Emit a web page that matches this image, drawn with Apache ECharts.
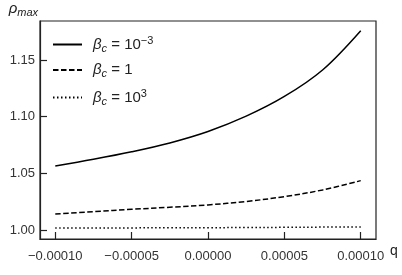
<!DOCTYPE html>
<html>
<head>
<meta charset="utf-8">
<script src="https://cdn.jsdelivr.net/npm/echarts@6/dist/echarts.min.js"></script>
<style>html,body{margin:0;padding:0;background:#fff;}#c{width:402px;height:275px;}</style>
</head>
<body>
<div id="c"></div>
<script>
const qValues = [-0.0001, -0.000075, -0.00005, -0.000025, 0, 0.000025, 0.00005, 0.000075, 0.0001];
const rhoBetaSmall = [1.0565, 1.0624, 1.0690, 1.0768, 1.0869, 1.1004, 1.1178, 1.1412, 1.1759];
const rhoBetaOne = [1.0141, 1.0161, 1.0182, 1.0200, 1.0221, 1.0251, 1.0294, 1.0353, 1.0435];
const rhoBetaLarge = [1.0016, 1.0017, 1.0018, 1.0019, 1.0020, 1.0021, 1.0023, 1.0025, 1.0027];
const seriesNames = ['b1', 'b2', 'b3'];
const legendLabels = {b1: '−3', b2: null, b3: '3'};
const xTicks = [-0.0001, -0.00005, 0, 0.00005, 0.0001];
const yTicks = [1.00, 1.05, 1.10, 1.15];

const FONT = 'Liberation Sans';
const chart = echarts.init(document.getElementById('c'), null, {renderer: 'canvas'});
const pair = arr => qValues.map((q, i) => [q, arr[i]]);
const fmtX = v => (v < 0 ? '−' : '') + Math.abs(v).toFixed(5);
const lineSeries = (name, data, type) => ({
  name, type: 'line', data: pair(data), smooth: 0.35, symbol: 'none',
  lineStyle: {color: '#000', width: 1.5, type: type},
  itemStyle: {color: '#000'}
});
chart.setOption({
  animation: false,
  grid: {left: 40, right: 26, top: 21, bottom: 36, show: true, borderColor: '#222', borderWidth: 1.2, backgroundColor: 'transparent'},
  legend: {
    orient: 'vertical', left: 52, top: 35, padding: 0, itemWidth: 29, itemHeight: 14, itemGap: 8.5,
    data: seriesNames,
    itemStyle: {opacity: 0, borderWidth: 0},
    formatter: n => {
      const p = legendLabels[n];
      return '{b|β}{s|c}{t| = ' + (p === null ? '1' : '10') + '}' + (p ? '{p|' + p + '}' : '');
    },
    textStyle: {
      fontFamily: FONT, color: '#222', padding: [0, 0, 0, 6],
      rich: {
        b: {fontFamily: FONT, fontSize: 15, fontStyle: 'italic', color: '#222', lineHeight: 19, verticalAlign: 'middle'},
        s: {fontFamily: FONT, fontSize: 11, fontStyle: 'italic', color: '#222', lineHeight: 19, verticalAlign: 'bottom'},
        t: {fontFamily: FONT, fontSize: 15, color: '#222', lineHeight: 19, verticalAlign: 'middle'},
        p: {fontFamily: FONT, fontSize: 11, color: '#222', lineHeight: 19, verticalAlign: 'top'}
      }
    }
  },
  xAxis: {
    type: 'value', min: -0.00011, max: 0.00011,
    name: 'q', nameLocation: 'end', nameGap: 7,
    nameTextStyle: {fontFamily: FONT, fontSize: 14, color: '#222', verticalAlign: 'top', padding: [5, 0, 0, 0]},
    axisLine: {show: true, onZero: false, lineStyle: {color: '#222', width: 1.2}},
    axisTick: {show: true, inside: true, length: 7, customValues: xTicks, lineStyle: {color: '#222', width: 1.2}},
    axisLabel: {customValues: xTicks, formatter: fmtX, fontFamily: FONT, fontSize: 13, color: '#333', margin: 11},
    splitLine: {show: false}
  },
  yAxis: {
    type: 'value', min: 0.992, max: 1.1844,
    name: '{r|ρ}{m|max}', nameLocation: 'end', nameGap: 3,
    nameTextStyle: {
      align: 'right', padding: [0, 2, 0, 0],
      rich: {
        r: {fontFamily: FONT, fontSize: 15, fontStyle: 'italic', color: '#222', lineHeight: 18, verticalAlign: 'middle'},
        m: {fontFamily: FONT, fontSize: 11, fontStyle: 'italic', color: '#222', lineHeight: 18, verticalAlign: 'bottom'}
      }
    },
    axisLine: {show: true, onZero: false, lineStyle: {color: '#222', width: 1.2}},
    axisTick: {show: true, inside: true, length: 7, customValues: yTicks, lineStyle: {color: '#222', width: 1.2}},
    axisLabel: {customValues: yTicks, formatter: v => v.toFixed(2), fontFamily: FONT, fontSize: 13, color: '#333', margin: 5},
    splitLine: {show: false}
  },
  series: [
    lineSeries('b1', rhoBetaSmall, 'solid'),
    lineSeries('b2', rhoBetaOne, [5.5, 2.5]),
    lineSeries('b3', rhoBetaLarge, [1.5, 2.5])
  ]
});
</script>
</body>
</html>
